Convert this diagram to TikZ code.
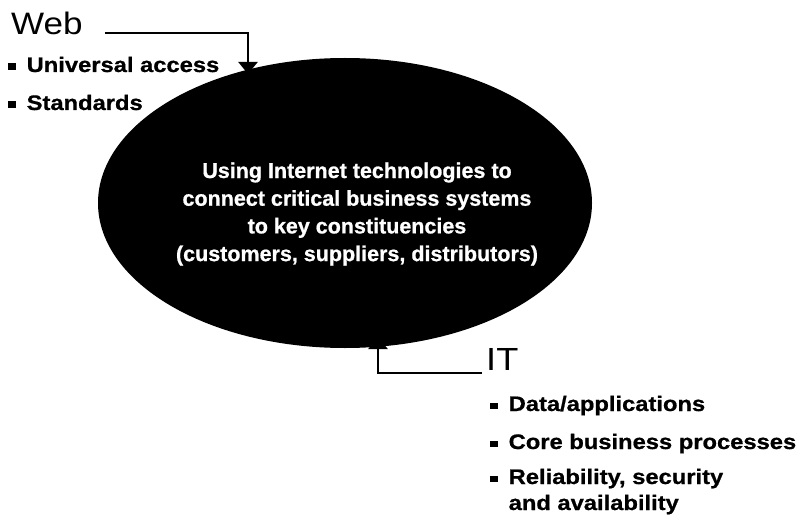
\documentclass[tikz,border=0pt]{standalone}
\usepackage{fontspec}
\setmainfont{Liberation Sans}[BoldFeatures={FakeBold=0.8}]
\newfontfamily\labelfont[FakeStretch=1.13, BoldFeatures={FakeBold=0.8}]{Liberation Sans}
\usepackage{tikz}
\usetikzlibrary{positioning}
\usetikzlibrary{shapes.geometric}
\usetikzlibrary{arrows.meta}

\newcommand{\sqbullet}{\raisebox{2pt}{\rule{7.5pt}{6.5pt}}\hspace{11pt}}

\begin{document}
\begin{tikzpicture}[
  x=1pt, y=-1pt,
  core/.style={ellipse, fill=black, minimum width=494pt, minimum height=290pt, inner sep=0pt},
  goal/.style={align=center, text=white, inner sep=0pt, font=\bfseries\fontsize{21.5}{27.7}\selectfont},
  head/.style={anchor=base west, inner sep=0pt, font=\labelfont\fontsize{31}{31}\selectfont},
  item/.style={anchor=base west, inner sep=0pt, align=left, font=\labelfont\bfseries\fontsize{21}{26}\selectfont},
  arrow/.style={-{Triangle[width=19pt, length=12pt]}, line width=2.2pt}
]
\useasboundingbox (0,0) rectangle (803,524);

\node[core] (core) at (345,203) {};
\node[goal] (aim) at (357,214) {Using Internet technologies to\\connect critical business systems\\to key constituencies\\(customers, suppliers, distributors)};

\node[head] (web) at (11,35) {Web};
\node[item] (access) at (8,72) {\sqbullet Universal access};
\node[item, below=38pt of access.base west, anchor=base west] (standards) {\sqbullet Standards};

\node[head, font=\labelfont\fontsize{32}{32}\selectfont] (it) at (486,370) {IT};
\node[item] (data) at (490,411) {\sqbullet Data/applications};
\node[item, below=38pt of data.base west, anchor=base west] (process) {\sqbullet Core business processes};
% base of a two-line node is its last line
\node[item, below=61pt of process.base west, anchor=base west] (reliab) {\sqbullet Reliability, security\\\hspace{18.5pt}and availability};

\coordinate (webtip) at (248,74);
\coordinate (ittip) at (378,337);
\draw[arrow] ([xshift=22pt, yshift=2pt]web.base east) -| (webtip);
\draw[arrow] ([xshift=-4pt, yshift=-3pt]it.base west) -| (ittip);

\end{tikzpicture}
\end{document}
